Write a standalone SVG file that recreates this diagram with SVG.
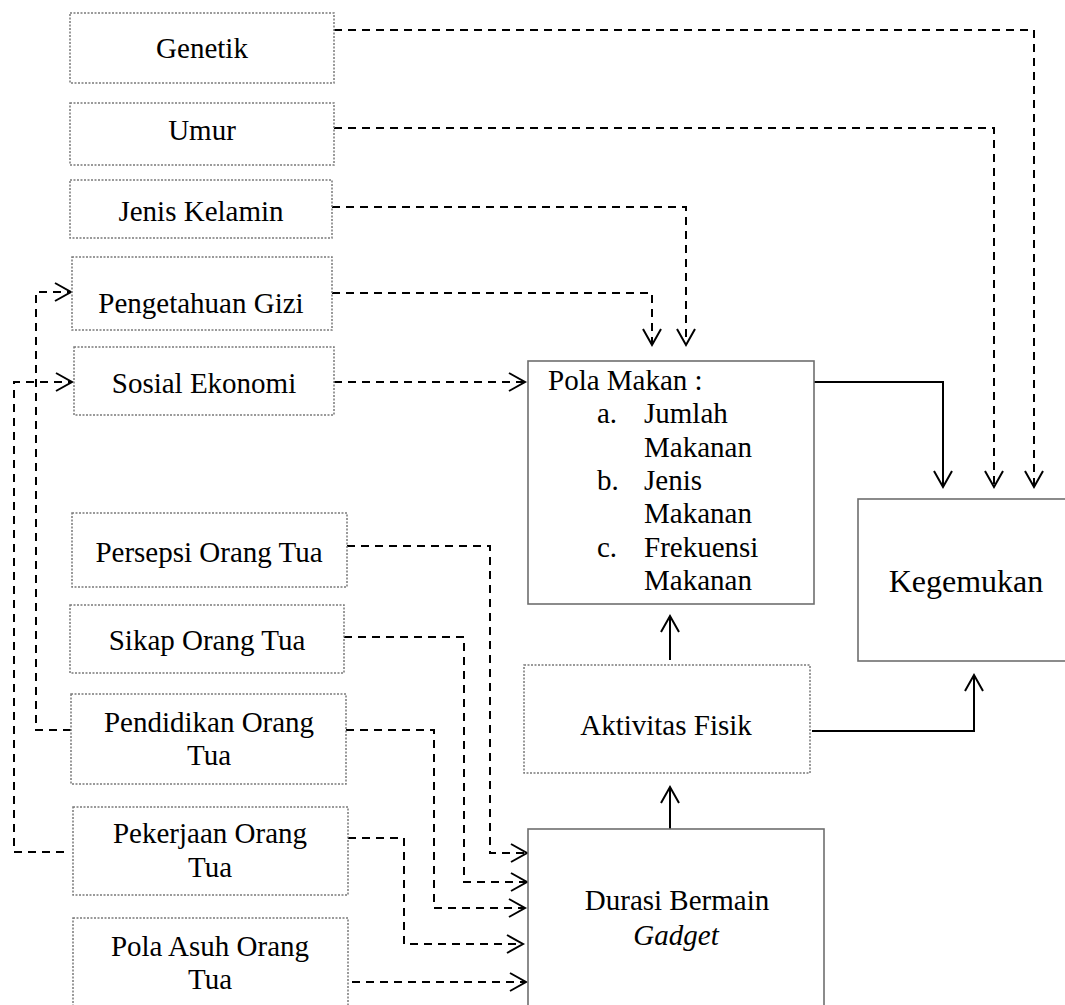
<svg xmlns="http://www.w3.org/2000/svg" width="1065" height="1005" viewBox="0 0 1065 1005">
<style>
text{font-family:"Liberation Serif","Times New Roman",serif;font-size:29px;fill:#000}
.c{text-anchor:middle}
.dot{fill:#fff;stroke:#7a7a7a;stroke-width:1.5;stroke-dasharray:2 1.5}
.sol{fill:#fff;stroke:#6e6e6e;stroke-width:1.6}
.dash{fill:none;stroke:#000;stroke-width:2;stroke-dasharray:8 6}
.line{fill:none;stroke:#000;stroke-width:2}
</style>
<defs>
<marker id="ah" markerUnits="userSpaceOnUse" markerWidth="24" markerHeight="24" viewBox="-20 -12 24 24" refX="0" refY="0" orient="auto">
<path d="M-16,-9 L0,0 L-16,9" fill="none" stroke="#000" stroke-width="2" stroke-dasharray="none"/>
</marker>
</defs>
<rect width="1065" height="1005" fill="#fff"/>
<g id="connectors">
<path class="dash" d="M334,30 H1034 V487" marker-end="url(#ah)"/>
<path class="dash" d="M334,128 H994 V487" marker-end="url(#ah)"/>
<path class="dash" d="M332,207 H686 V345" marker-end="url(#ah)"/>
<path class="dash" d="M332,293 H652 V345" marker-end="url(#ah)"/>
<path class="dash" d="M334,382 H525" marker-end="url(#ah)"/>
<path class="line" d="M814,382 H943 V487" marker-end="url(#ah)"/>
<path class="line" d="M670,660 V616" marker-end="url(#ah)"/>
<path class="line" d="M670,829 V787" marker-end="url(#ah)"/>
<path class="line" d="M812,731 H974 V675" marker-end="url(#ah)"/>
<path class="dash" d="M347,546 H490 V853 H527" marker-end="url(#ah)"/>
<path class="dash" d="M344,637 H464 V882 H527" marker-end="url(#ah)"/>
<path class="dash" d="M346,730 H434 V908 H525" marker-end="url(#ah)"/>
<path class="dash" d="M348,838 H404 V944 H523" marker-end="url(#ah)"/>
<path class="dash" d="M352,982 H526" marker-end="url(#ah)"/>
<path class="dash" d="M71,730 H36 V292 H71" marker-end="url(#ah)"/>
<path class="dash" d="M64,852 H14 V382 H72" marker-end="url(#ah)"/>
</g>
<g id="genetik"><rect class="dot" x="70" y="13" width="264" height="70"/><text class="c" x="202" y="58">Genetik</text></g>
<g id="umur"><rect class="dot" x="70" y="103" width="264" height="62"/><text class="c" x="202" y="140">Umur</text></g>
<g id="jenis-kelamin"><rect class="dot" x="70" y="180" width="262" height="58"/><text class="c" x="201" y="221">Jenis Kelamin</text></g>
<g id="pengetahuan-gizi"><rect class="dot" x="72" y="257" width="260" height="73"/><text class="c" x="201" y="313">Pengetahuan Gizi</text></g>
<g id="sosial-ekonomi"><rect class="dot" x="74" y="347" width="260" height="68"/><text class="c" x="204" y="393">Sosial Ekonomi</text></g>
<g id="persepsi"><rect class="dot" x="72" y="513" width="275" height="74"/><text class="c" x="209" y="562">Persepsi Orang Tua</text></g>
<g id="sikap"><rect class="dot" x="70" y="605" width="274" height="68"/><text class="c" x="207" y="650">Sikap Orang Tua</text></g>
<g id="pendidikan"><rect class="dot" x="71" y="694" width="275" height="90"/><text class="c" x="209" y="732">Pendidikan Orang</text><text class="c" x="209" y="765">Tua</text></g>
<g id="pekerjaan"><rect class="dot" x="73" y="807" width="275" height="88"/><text class="c" x="210" y="843">Pekerjaan Orang</text><text class="c" x="210" y="877">Tua</text></g>
<g id="pola-asuh"><rect class="dot" x="73" y="918" width="275" height="100"/><text class="c" x="210" y="956">Pola Asuh Orang</text><text class="c" x="210" y="989">Tua</text></g>
<g id="pola-makan"><rect class="sol" x="528" y="361" width="286" height="243"/>
<text x="548" y="390">Pola Makan :</text>
<text x="597" y="423">a.</text><text x="644" y="423">Jumlah</text>
<text x="644" y="457">Makanan</text>
<text x="597" y="490">b.</text><text x="644" y="490">Jenis</text>
<text x="644" y="523">Makanan</text>
<text x="597" y="557">c.</text><text x="644" y="557">Frekuensi</text>
<text x="644" y="590">Makanan</text>
</g>
<g id="kegemukan"><rect class="sol" x="858" y="499" width="215" height="162"/><text class="c" x="966" y="592" style="font-size:32px">Kegemukan</text></g>
<g id="aktivitas-fisik"><rect class="dot" x="524" y="665" width="286" height="108"/><text class="c" x="666" y="735">Aktivitas Fisik</text></g>
<g id="durasi"><rect class="sol" x="528" y="829" width="296" height="190"/><text class="c" x="677" y="910">Durasi Bermain</text><text class="c" x="676" y="945" font-style="italic">Gadget</text></g>
</svg>
